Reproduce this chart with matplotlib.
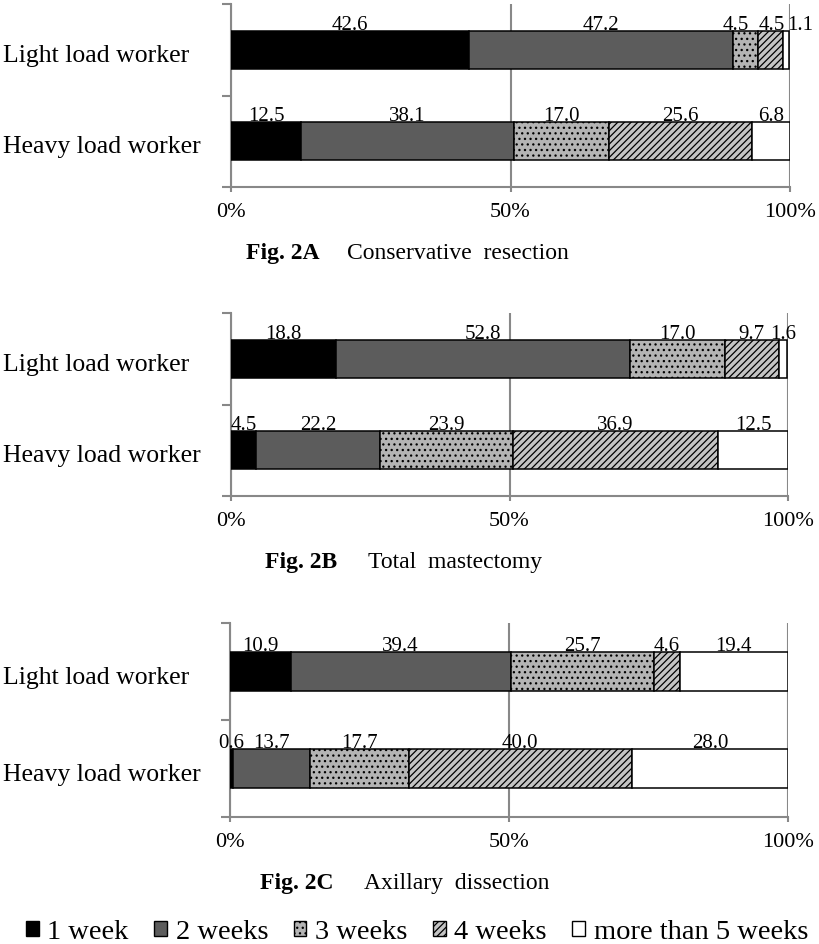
import numpy as np
import matplotlib
matplotlib.use('Agg')
import matplotlib.pyplot as plt
from matplotlib.patches import Patch
from matplotlib.transforms import blended_transform_factory

plt.rcParams['font.family'] = ['Liberation Serif', 'DejaVu Serif']
plt.rcParams['hatch.linewidth'] = 0.9

# data (percent of patients)
categories = ['Light load worker', 'Heavy load worker']
durations = ['1 week', '2 weeks', '3 weeks', '4 weeks', 'more than 5 weeks']
fig_ids = ['Fig. 2A', 'Fig. 2B', 'Fig. 2C']
fig_titles = ['Conservative  resection', 'Total  mastectomy', 'Axillary  dissection']

light_a = [42.6, 47.2, 4.5, 4.5, 1.1]
heavy_a = [12.5, 38.1, 17.0, 25.6, 6.8]
light_b = [18.8, 52.8, 17.0, 9.7, 1.6]
heavy_b = [4.5, 22.2, 23.9, 36.9, 12.5]
light_c = [10.9, 39.4, 25.7, 4.6, 19.4]
heavy_c = [0.6, 13.7, 17.7, 40.0, 28.0]

xticks = [0, 50, 100]
xtick_labels = ['0%', '50%', '100%']

panels = [(light_a, heavy_a), (light_b, heavy_b), (light_c, heavy_c)]

# styles
face = ['black', '#5c5c5c', '#b4b4b4', '#c4c4c4', 'white']
hatch = [None, None, '...', '/////', None]
axis_grey = '#888888'

W, H = 819, 945
fig = plt.figure(figsize=(W / 100, H / 100), dpi=100)

# axes boxes in pixels: left, top, right, bottom
boxes = [(231, 5, 790, 188), (231, 314, 788, 497), (230, 624, 788, 818)]
caption_x = [(320, 347), (337, 368), (333, 364)]
bar_h = 0.41
# label nudges (points) where narrow segments would collide: (panel, row, segment)
nudge = {(0, 0, 2): -7, (0, 0, 3): 1, (0, 0, 4): 10}

for i, (l, t, r, b) in enumerate(boxes):
    ax = fig.add_axes([l / W, 1 - b / H, (r - l) / W, (b - t) / H])
    ypos = [1, 0]
    for j, (vals, y) in enumerate(zip(panels[i], ypos)):
        left = np.concatenate([[0], np.cumsum(vals)[:-1]])
        for k, (v, x0) in enumerate(zip(vals, left)):
            ax.barh(y, v, left=x0, height=bar_h, color=face[k], edgecolor='black',
                    hatch=hatch[k], lw=1.1, zorder=3)
            ax.annotate(f'{v:.1f}', (x0 + v / 2, y + bar_h / 2),
                        xytext=(nudge.get((i, j, k), 0), 1.5),
                        textcoords='offset points', ha='center', va='baseline',
                        fontsize=15, zorder=4)

    ax.set_xlim(0, 100)
    ax.set_ylim(-0.5, 1.5)
    ax.set_xticks(xticks)
    ax.set_xticklabels(xtick_labels, fontsize=16)
    ax.set_yticks([-0.5, 0.5, 1.5])
    ax.set_yticklabels([])
    ax.xaxis.grid(True, color=axis_grey, lw=1.5)
    ax.set_axisbelow(True)
    for s in ['top', 'right']:
        ax.spines[s].set_visible(False)
    for s in ['left', 'bottom']:
        ax.spines[s].set_color(axis_grey)
        ax.spines[s].set_linewidth(1.5)
    ax.tick_params(axis='y', length=6.5, width=1.5, color=axis_grey)
    ax.tick_params(axis='x', length=3.6, width=1.5, color=axis_grey, pad=7)

    trans = blended_transform_factory(fig.transFigure, ax.transData)
    for name, y in zip(categories, ypos):
        ax.annotate(name, (3 / W, y), xycoords=trans, xytext=(0, -8),
                    textcoords='offset points', ha='left', va='baseline', fontsize=18.5)

    base = 1 - (b + 71) / H
    fig.text(caption_x[i][0] / W, base, fig_ids[i], ha='right', va='baseline',
             fontsize=17, weight='bold')
    fig.text(caption_x[i][1] / W, base, fig_titles[i], ha='left', va='baseline',
             fontsize=17)

handles = [Patch(facecolor=f, edgecolor='black', hatch=h, lw=1.0) for f, h in zip(face, hatch)]
fig.legend(handles, durations, loc='center', bbox_to_anchor=(417 / W, 1 - 933 / H),
           ncol=5, frameon=False, fontsize=20.5, handlelength=0.45, handleheight=0.45,
           handletextpad=0.3, columnspacing=0.9, borderaxespad=0, borderpad=0)

fig.savefig('out.png', dpi=100)
